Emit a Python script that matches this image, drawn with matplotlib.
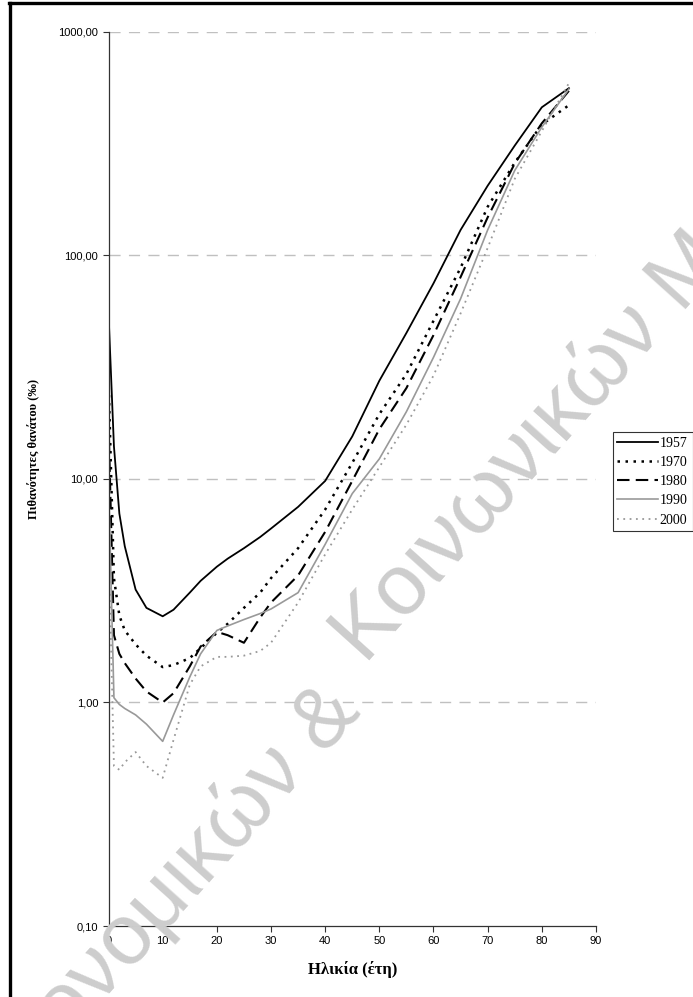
import matplotlib.pyplot as plt
from matplotlib.lines import Line2D
import numpy as np

plt.rcParams['font.family'] = ['Liberation Sans', 'DejaVu Sans']

ages = [0, 1, 2, 3, 5, 7, 10, 12, 15, 17, 20, 22, 25, 28, 30, 35, 40, 45, 50, 55, 60, 65, 70, 75, 80, 85]

q1957 = [55, 14, 7.0, 5.0, 3.2, 2.65, 2.43, 2.6, 3.1, 3.5, 4.05, 4.4, 4.9, 5.5, 6.0, 7.5, 9.8, 15.5, 27.5, 45, 75, 130, 205, 310, 460, 560]
q1970 = [28, 3.6, 2.45, 2.1, 1.82, 1.62, 1.44, 1.47, 1.58, 1.75, 2.05, 2.25, 2.65, 3.1, 3.6, 4.9, 7.3, 11.8, 19.5, 29.5, 51, 88, 165, 260, 385, 470]
q1980 = [18, 2.0, 1.65, 1.5, 1.28, 1.12, 1.0, 1.1, 1.45, 1.78, 2.07, 2.0, 1.85, 2.4, 2.8, 3.7, 5.8, 9.8, 16.7, 25.5, 44, 80, 148, 258, 390, 545]
q1990 = [10, 1.05, 0.98, 0.94, 0.88, 0.8, 0.67, 0.88, 1.3, 1.65, 2.1, 2.2, 2.35, 2.5, 2.62, 3.1, 5.1, 8.6, 12.3, 20, 35, 64, 130, 240, 375, 555]
q2000 = [5.5, 0.52, 0.5, 0.54, 0.6, 0.52, 0.46, 0.68, 1.2, 1.45, 1.6, 1.6, 1.62, 1.7, 1.85, 2.8, 4.6, 7.3, 11.3, 17.5, 29, 55, 108, 220, 360, 590]

years = ['1957', '1970', '1980', '1990', '2000']
yticks = [0.1, 1, 10, 100, 1000]
ytick_labels = ['0,10', '1,00', '10,00', '100,00', '1000,00']
xticks = [0, 10, 20, 30, 40, 50, 60, 70, 80, 90]

fig = plt.figure(figsize=(6.93, 9.97), dpi=100)
ax = fig.add_axes([0.1566, 0.0712, 0.7034, 0.8968])

ax.plot(ages, q1957, color='black', lw=1.3, ls='-', label=years[0])
ax.plot(ages, q1970, color='black', lw=1.8, ls=(0, (1, 2.2)), label=years[1])
ax.plot(ages, q1980, color='black', lw=1.5, ls=(0, (6, 3)), label=years[2])
ax.plot(ages, q1990, color='#999999', lw=1.2, ls='-', label=years[3])
ax.plot(ages, q2000, color='#999999', lw=1.3, ls=(0, (1, 2.5)), label=years[4])

ax.set_yscale('log')
ax.set_ylim(0.1, 1000)
ax.set_xlim(0, 90)
ax.set_yticks(yticks)
ax.set_yticklabels(ytick_labels)
ax.yaxis.set_minor_locator(plt.NullLocator())
ax.set_xticks(xticks)
ax.tick_params(direction='out', length=4, width=0.8, color='#333333', labelsize=8)

for v in yticks[1:]:
    ax.axhline(v, color='#c0c0c0', lw=1, ls=(0, (8, 6)), zorder=0)

for s in ['top', 'right']:
    ax.spines[s].set_visible(False)
for s in ['left', 'bottom']:
    ax.spines[s].set_color('#333333')
    ax.spines[s].set_linewidth(0.9)

ax.set_xlabel('Ηλικία (έτη)', fontfamily='Liberation Serif', fontweight='bold', fontsize=12)
ax.xaxis.set_label_coords(0.5, -0.039)
ax.set_ylabel('Πιθανότητες θανάτου (‰)', fontfamily='Liberation Serif', fontweight='bold', fontsize=9)
ax.yaxis.set_label_coords(-0.14, 0.533)

leg = fig.legend(loc='upper left', bbox_to_anchor=(0.884, 0.567), frameon=True, fancybox=False,
                 prop={'family': 'Liberation Serif', 'size': 10}, handlelength=2.9, handletextpad=0.15,
                 borderpad=0.35, labelspacing=0.45, borderaxespad=0)
leg.get_frame().set_edgecolor('black')
leg.get_frame().set_linewidth(0.8)

# watermark, two pieces along a slanted baseline
fig.text(365 / 693, 1 - 665 / 997, 'Κοινωνικών Μ', fontsize=62, color='#cdcdcd',
         rotation=48, rotation_mode='anchor', ha='left', va='baseline', zorder=10)
fig.text(362 / 693, 1 - 712 / 997, 'Οικονομικών &', fontsize=62, color='#cdcdcd',
         rotation=48, rotation_mode='anchor', ha='right', va='baseline', zorder=10)

# frame
fig.add_artist(Line2D([10 / 693, 10 / 693], [0, 1 - 3.3 / 997], color='black', lw=2.4))
fig.add_artist(Line2D([8.8 / 693, 1], [1 - 3.3 / 997, 1 - 3.3 / 997], color='black', lw=2.4))

plt.savefig('out.png', dpi=100)
